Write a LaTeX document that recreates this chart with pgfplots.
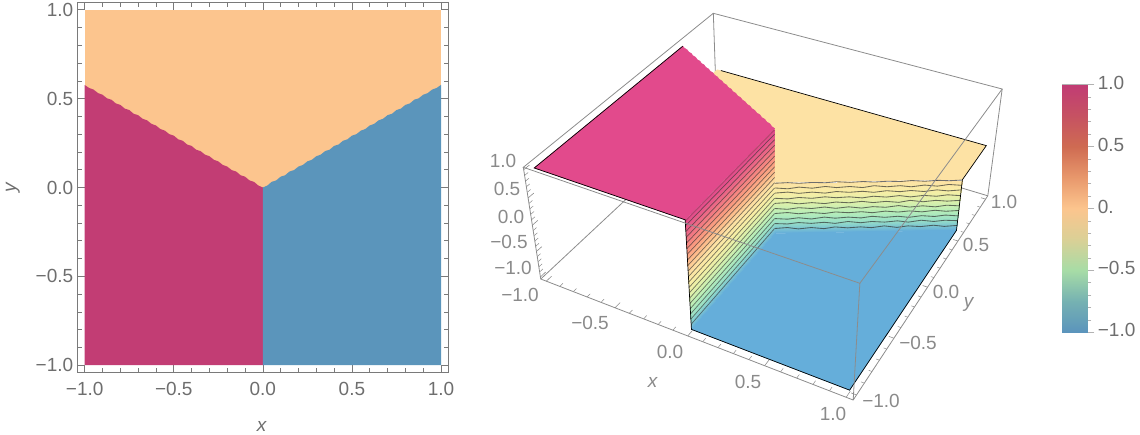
\documentclass[border=0pt]{standalone}
\usepackage{fontspec}
\setmainfont{Liberation Sans}
\usepackage{pgfplots}
\usepackage{pgfplotstable}
\pgfplotsset{compat=1.18}

\definecolor{frame}{HTML}{7A7A7A}
\definecolor{boxline}{HTML}{8C8C8C}
\definecolor{tlabA}{HTML}{6E6E6E}
\definecolor{tlabB}{HTML}{8A8A8A}
\definecolor{regpink}{HTML}{C23D74}
\definecolor{regblue}{HTML}{5B95BB}
\definecolor{regpeach}{HTML}{FCC58E}
\definecolor{litpink}{HTML}{E24A8C}
\definecolor{litblue}{HTML}{65AEDA}
\definecolor{lityellow}{HTML}{FDE2A4}
\definecolor{wallband}{HTML}{B93F70}

\newcommand{\lab}{\fontsize{19}{21}\selectfont}

% colours of the lit surface and of the legend bar
\pgfplotsset{
  colormap={lit}{rgb255=(101,174,218) rgb255=(150,222,200) rgb255=(184,238,184)
    rgb255=(222,240,170) rgb255=(248,238,165) rgb255=(253,226,164) rgb255=(253,190,140)
    rgb255=(250,155,128) rgb255=(243,125,130) rgb255=(232,96,135) rgb255=(226,74,140)},
  colormap={bar}{rgb255=(91,148,188) rgb255=(118,178,178) rgb255=(167,220,166)
    rgb255=(218,208,150) rgb255=(252,197,142) rgb255=(232,152,108) rgb255=(207,107,82)
    rgb255=(198,82,98) rgb255=(193,60,116)},
}

% camera of the 3D panel: data (x,y,z) to picture pixels
\pgfplotsset{
  table/cam/.style={
    x expr={(843.8+112.0*\thisrow{x}+167.95*\thisrow{y}-27.7*\thisrow{#1})/(1.08935-0.0576*\thisrow{x}+0.1076*\thisrow{y}-0.03576*\thisrow{#1})},
    y expr={(199.04+39.36*\thisrow{x}-72.49*\thisrow{y}-63.6*\thisrow{#1})/(1.08935-0.0576*\thisrow{x}+0.1076*\thisrow{y}-0.03576*\thisrow{#1})},
  },
  table/cam/.default=z,
}

% z=1 region, boundary as sampled
\pgfplotstableread{
x y z
-1 -1 1
0 -1 1
0 0 1
-0.025 0.011 1
-0.050 0.032 1
-0.075 0.040 1
-0.100 0.061 1
-0.125 0.069 1
-0.150 0.090 1
-0.175 0.098 1
-0.200 0.118 1
-0.225 0.127 1
-0.250 0.147 1
-0.275 0.156 1
-0.300 0.176 1
-0.325 0.185 1
-0.350 0.205 1
-0.375 0.213 1
-0.400 0.234 1
-0.425 0.242 1
-0.450 0.263 1
-0.475 0.271 1
-0.500 0.292 1
-0.525 0.300 1
-0.550 0.320 1
-0.575 0.329 1
-0.600 0.349 1
-0.625 0.358 1
-0.650 0.378 1
-0.675 0.387 1
-0.700 0.407 1
-0.725 0.415 1
-0.750 0.436 1
-0.775 0.444 1
-0.800 0.465 1
-0.825 0.473 1
-0.850 0.494 1
-0.875 0.502 1
-0.900 0.522 1
-0.925 0.531 1
-0.950 0.551 1
-0.975 0.560 1
-1 0.577 1
}\pinktable

% z=-1 region in the plane
\pgfplotstableread{
x y
0 -1
1 -1
1 0.577
0.975 0.560
0.950 0.551
0.925 0.531
0.900 0.522
0.875 0.502
0.850 0.494
0.825 0.473
0.800 0.465
0.775 0.444
0.750 0.436
0.725 0.415
0.700 0.407
0.675 0.387
0.650 0.378
0.625 0.358
0.600 0.349
0.575 0.329
0.550 0.320
0.525 0.300
0.500 0.292
0.475 0.271
0.450 0.263
0.425 0.242
0.400 0.234
0.375 0.213
0.350 0.205
0.325 0.185
0.300 0.176
0.275 0.156
0.250 0.147
0.225 0.127
0.200 0.118
0.175 0.098
0.150 0.090
0.125 0.069
0.100 0.061
0.075 0.040
0.050 0.032
0.025 0.011
0 0
}\bluetable

% contours on the wall between z=0 and z=-1
\pgfplotstableread{
x y z0 z1 z2 z3 z4 z5 z6 z7 z8 z9
0 0 -0.010 -0.100 -0.200 -0.300 -0.400 -0.500 -0.600 -0.700 -0.800 -0.900
0.07 0.040 -0.002 -0.120 -0.184 -0.316 -0.388 -0.520 -0.584 -0.716 -0.812 -0.884
0.13 0.075 -0.018 -0.092 -0.212 -0.292 -0.416 -0.492 -0.612 -0.692 -0.788 -0.916
0.20 0.115 -0.006 -0.116 -0.192 -0.312 -0.396 -0.512 -0.592 -0.720 -0.808 -0.892
0.27 0.156 -0.016 -0.088 -0.216 -0.288 -0.420 -0.488 -0.616 -0.688 -0.792 -0.920
0.33 0.190 0.000 -0.112 -0.188 -0.308 -0.392 -0.516 -0.588 -0.712 -0.816 -0.888
0.40 0.231 -0.016 -0.096 -0.208 -0.296 -0.412 -0.492 -0.608 -0.696 -0.784 -0.912
0.47 0.271 -0.004 -0.120 -0.192 -0.320 -0.388 -0.520 -0.592 -0.716 -0.812 -0.896
0.53 0.306 -0.018 -0.088 -0.216 -0.292 -0.416 -0.496 -0.616 -0.688 -0.792 -0.916
0.60 0.346 -0.006 -0.112 -0.188 -0.312 -0.396 -0.512 -0.588 -0.712 -0.808 -0.884
0.67 0.387 -0.016 -0.096 -0.212 -0.288 -0.420 -0.484 -0.612 -0.696 -0.788 -0.920
0.73 0.421 0.000 -0.120 -0.192 -0.316 -0.384 -0.516 -0.592 -0.720 -0.816 -0.892
0.80 0.462 -0.018 -0.092 -0.216 -0.292 -0.416 -0.496 -0.616 -0.692 -0.784 -0.912
0.87 0.502 -0.004 -0.116 -0.188 -0.312 -0.392 -0.520 -0.588 -0.712 -0.812 -0.888
0.93 0.537 -0.016 -0.088 -0.212 -0.288 -0.412 -0.492 -0.612 -0.688 -0.792 -0.916
1 0.577 -0.006 -0.108 -0.196 -0.308 -0.400 -0.508 -0.600 -0.708 -0.804 -0.900
}\walltable

\begin{document}
\begin{tikzpicture}[x=1pt,y=1pt]
\path[use as bounding box] (0,0) rectangle (1140,434);

% 3D panel, drawn back to front
\begin{axis}[
    at={(0pt,0pt)}, anchor=south west, scale only axis, width=1140pt, height=434pt,
    xmin=0, xmax=1140, ymin=0, ymax=434, y dir=reverse,
    hide axis, clip=false, z buffer=none,
    point meta min=-1, point meta max=1, colormap name=lit,
  ]
  % box, back edges
  \addplot[boxline, line width=0.8pt] table[cam] {
    x y z
    -1.0417 1.0417 1.0417
    -1.0417 1.0417 -1.0417
    1.0417 1.0417 -1.0417
  };
  \addplot[boxline, line width=0.8pt] table[cam] {
    x y z
    -1.0417 1.0417 -1.0417
    -1.0417 -1.0417 -1.0417
  };

  % z=0 sheet
  \addplot[fill=lityellow, draw=none] table[cam] {
    x y z
    -1 1 0
    1 1 0
    1 0.577 0
    0 0 0
    -1 0.577 0
  } --cycle;

  % wall z=0 to z=-1
  \addplot[surf, shader=interp, mesh/cols=2, point meta=\thisrow{z}] table[cam] {
    x y z
    0 0 -1
    1 0.577 -1
    0 0 0
    1 0.577 0
  };
  \pgfplotsinvokeforeach{z0,z1,z2,z3,z4,z5,z6,z7,z8,z9}{
    \addplot[black!80, opacity=0.7, line width=0.85pt] table[cam=#1] {\walltable};
  }

  % z=-1 sheet
  \addplot[fill=litblue, draw=litblue, line width=0.6pt] table[cam] {
    x y z
    0 -1 -1
    1 -1 -1
    1 0.577 -1
    0 0 -1
  } --cycle;

  % wall z=1 to z=-1
  \addplot[surf, shader=interp, mesh/cols=2, point meta=\thisrow{z}] table[cam] {
    x y z
    0 -1 -1
    0 0 -1
    0 -1 1
    0 0 1
  };
  \pgfplotsinvokeforeach{-0.9,-0.8,-0.7,-0.6,-0.5,-0.4,-0.3,-0.2,-0.1,0,0.1,0.2,0.3,0.4,0.5,0.6,0.7,0.8,0.9}{
    \addplot[black!80, opacity=0.65, line width=0.7pt] table[cam, row sep=\\] {x y z\\ 0 -1 #1\\ 0 0 #1\\};
  }

  % z=1 sheet
  \addplot[fill=litpink, draw=litpink, line width=0.5pt] table[cam] {\pinktable} --cycle;
  \addplot[wallband, line width=1.2pt] table[cam] {
    x y z
    0 -1 0.98
    0 0 0.98
  };

  % sheet boundaries
  \addplot[black, line width=0.7pt] table[cam] {
    x y z
    -1 0.577 1
    -1 -1 1
    0 -1 1
    0 -1 -1
    1 -1 -1
    1 0.577 -1
    1 0.577 0
    1 1 0
    -0.97 1 0
  };

  % box, front edges
  \addplot[boxline, line width=0.8pt] table[cam] {
    x y z
    -1.0417 -1.0417 1.0417
    -1.0417 -1.0417 -1.0417
    1.0417 -1.0417 -1.0417
    1.0417 1.0417 -1.0417
    1.0417 1.0417 1.0417
    -1.0417 1.0417 1.0417
    -1.0417 -1.0417 1.0417
    1.0417 -1.0417 1.0417
    1.0417 -1.0417 -1.0417
  };
  \addplot[boxline, line width=0.8pt] table[cam] {
    x y z
    1.0417 -1.0417 1.0417
    1.0417 1.0417 1.0417
  };

  % ticks of the box
  \pgfplotsinvokeforeach{-1,-0.5,0,0.5,1}{
    \addplot[boxline, line width=0.6pt] table[cam, row sep=\\] {x y z\\ #1 -1.0417 -1.0417\\ #1 -0.99 -1.0417\\};
    \addplot[boxline, line width=0.6pt] table[cam, row sep=\\] {x y z\\ 1.0417 #1 -1.0417\\ 1.01 #1 -1.0417\\};
    \addplot[boxline, line width=0.6pt] table[cam, row sep=\\] {x y z\\ -1.0417 -1.0417 #1\\ -1.0417 -0.99 #1\\};
  }
  \pgfplotsinvokeforeach{-0.9,-0.8,-0.7,-0.6,-0.4,-0.3,-0.2,-0.1,0.1,0.2,0.3,0.4,0.6,0.7,0.8,0.9}{
    \addplot[boxline, line width=0.5pt] table[cam, row sep=\\] {x y z\\ #1 -1.0417 -1.0417\\ #1 -1.01 -1.0417\\};
    \addplot[boxline, line width=0.5pt] table[cam, row sep=\\] {x y z\\ 1.0417 #1 -1.0417\\ 1.022 #1 -1.0417\\};
    \addplot[boxline, line width=0.5pt] table[cam, row sep=\\] {x y z\\ -1.0417 -1.0417 #1\\ -1.0417 -1.01 #1\\};
  }

  % labels of the box
  \begin{scope}[every node/.style={font=\lab, text=tlabB, inner sep=0pt}]
    \node at (axis cs:520,295) {−1.0};
    \node at (axis cs:590,323) {−0.5};
    \node at (axis cs:670,352) {0.0};
    \node at (axis cs:748,382) {0.5};
    \node at (axis cs:833,414) {1.0};
    \node at (axis cs:653,382) {\textit{x}};
    \node at (axis cs:881,401) {−1.0};
    \node at (axis cs:918,343) {−0.5};
    \node at (axis cs:946,292) {0.0};
    \node at (axis cs:976,245) {0.5};
    \node at (axis cs:1004,202) {1.0};
    \node at (axis cs:969,304) {\textit{y}};
    \node at (axis cs:503,161) {1.0};
    \node at (axis cs:507,189) {0.5};
    \node at (axis cs:511,217) {0.0};
    \node at (axis cs:509,242) {−0.5};
    \node at (axis cs:513,268) {−1.0};
  \end{scope}
\end{axis}

% region plot
\begin{axis}[
    at={(77.7pt,61.7pt)}, anchor=south west, scale only axis,
    width=370.3pt, height=369.6pt,
    xmin=-1.0393, xmax=1.0393, ymin=-1.04, ymax=1.04,
    axis line style={frame, line width=1pt},
    tick style={frame, line width=0.7pt},
    tick align=inside, major tick length=7pt, minor tick length=4pt,
    xtick={-1,-0.5,0,0.5,1}, ytick={-1,-0.5,0,0.5,1},
    xticklabels={−1.0,−0.5,0.0,0.5,1.0}, yticklabels={−1.0,−0.5,0.0,0.5,1.0},
    minor tick num=4,
    tick label style={font=\lab, text=tlabA},
    xticklabel style={yshift=-6pt}, yticklabel style={xshift=-1pt},
    xlabel={\textit{x}}, ylabel={\textit{y}},
    xlabel style={font=\lab, text=tlabA, at={(axis description cs:0.4977,-0.147)}, anchor=center, inner sep=0pt},
    ylabel style={font=\lab, text=tlabA, at={(axis description cs:-0.175,0.5)}, anchor=center, inner sep=0pt},
  ]
  \addplot[fill=regpeach, draw=none] coordinates {(-1,-1) (1,-1) (1,1) (-1,1)} --cycle;
  \addplot[fill=regpink, draw=none] table[x=x, y=y] {\pinktable} --cycle;
  \addplot[fill=regblue, draw=none] table[x=x, y=y] {\bluetable} --cycle;
\end{axis}

% legend bar
\begin{axis}[
    at={(1062.3pt,101.7pt)}, anchor=south west, scale only axis,
    width=25pt, height=247.6pt,
    xmin=0, xmax=1, ymin=-1, ymax=1,
    axis line style={black!30, line width=0.6pt},
    xtick=\empty, ytick={-1,-0.5,0,0.5,1},
    yticklabels={−1.0,−0.5,0.,0.5,1.0}, minor y tick num=4,
    ytick pos=right, yticklabel pos=right,
    tick align=outside, major tick length=7pt, minor tick length=4pt,
    tick style={black!30, line width=0.7pt},
    tick label style={font=\lab, text=tlabA},
    yticklabel style={anchor=west, xshift=0pt, yshift=2pt},
    point meta min=-1, point meta max=1, colormap name=bar, z buffer=none,
  ]
  \addplot[surf, shader=interp, mesh/cols=2, point meta=\thisrow{v}] table {
    x y v
    0 -1 -1
    1 -1 -1
    0 1 1
    1 1 1
  };
\end{axis}
\end{tikzpicture}
\end{document}
